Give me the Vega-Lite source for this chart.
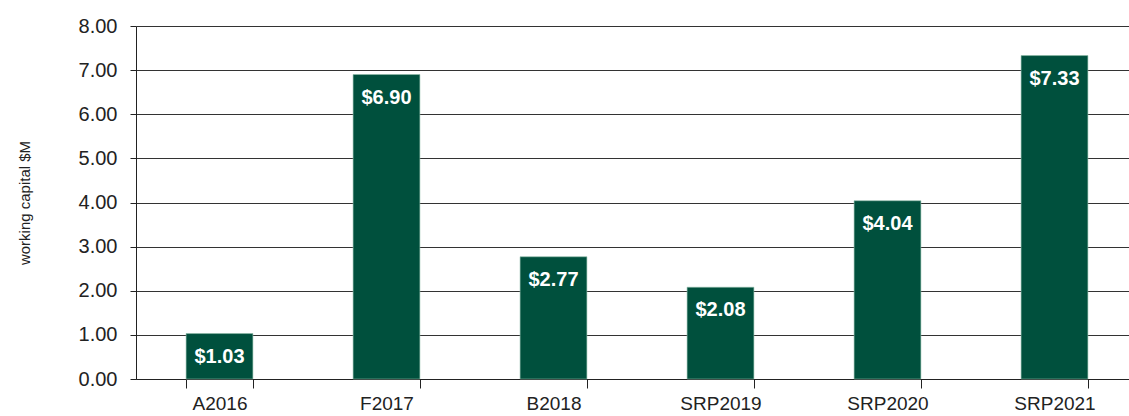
{
  "$schema": "https://vega.github.io/schema/vega-lite/v6.json",
  "width": 1002,
  "height": 353,
  "autosize": {"type": "none"},
  "padding": {"left": 136, "top": 26, "right": 0, "bottom": 37},
  "background": "white",
  "config": {"view": {"stroke": null}, "font": "Liberation Sans"},
  "data": {"values": [
    {"year": "A2016", "value": 1.03},
    {"year": "F2017", "value": 6.90},
    {"year": "B2018", "value": 2.77},
    {"year": "SRP2019", "value": 2.08},
    {"year": "SRP2020", "value": 4.04},
    {"year": "SRP2021", "value": 7.33}
  ]},
  "encoding": {
    "x": {"field": "year", "type": "nominal", "sort": null,
      "scale": {"paddingInner": 0.6, "paddingOuter": 0.3},
      "axis": {"title": null, "labelAngle": 0, "labelFontSize": 19, "labelColor": "#222", "labelPadding": 6,
        "tickBand": "extent", "domainColor": "#222", "tickColor": "#222", "tickSize": 9, "grid": false}},
    "y": {"field": "value", "type": "quantitative",
      "scale": {"domain": [0, 8], "nice": false},
      "axis": {"title": "working capital $M", "titleFontSize": 15, "titleFontWeight": "normal", "titleColor": "#222",
        "titlePadding": 46, "values": [0,1,2,3,4,5,6,7,8], "format": ".2f",
        "labelFontSize": 20, "labelColor": "#222", "labelPadding": 13,
        "gridColor": "#333", "gridWidth": 1, "gridOpacity": 1,
        "domainColor": "#222", "tickColor": "#222", "tickSize": 6}}
  },
  "layer": [
    {"mark": {"type": "bar", "color": "#00503D", "stroke": "#8fbcaa", "strokeWidth": 0.6}},
    {"mark": {"type": "text", "color": "white", "fontWeight": "bold", "fontSize": 20, "baseline": "middle", "dy": 23},
     "encoding": {"text": {"field": "value", "type": "quantitative", "format": "$.2f"}}}
  ]
}
